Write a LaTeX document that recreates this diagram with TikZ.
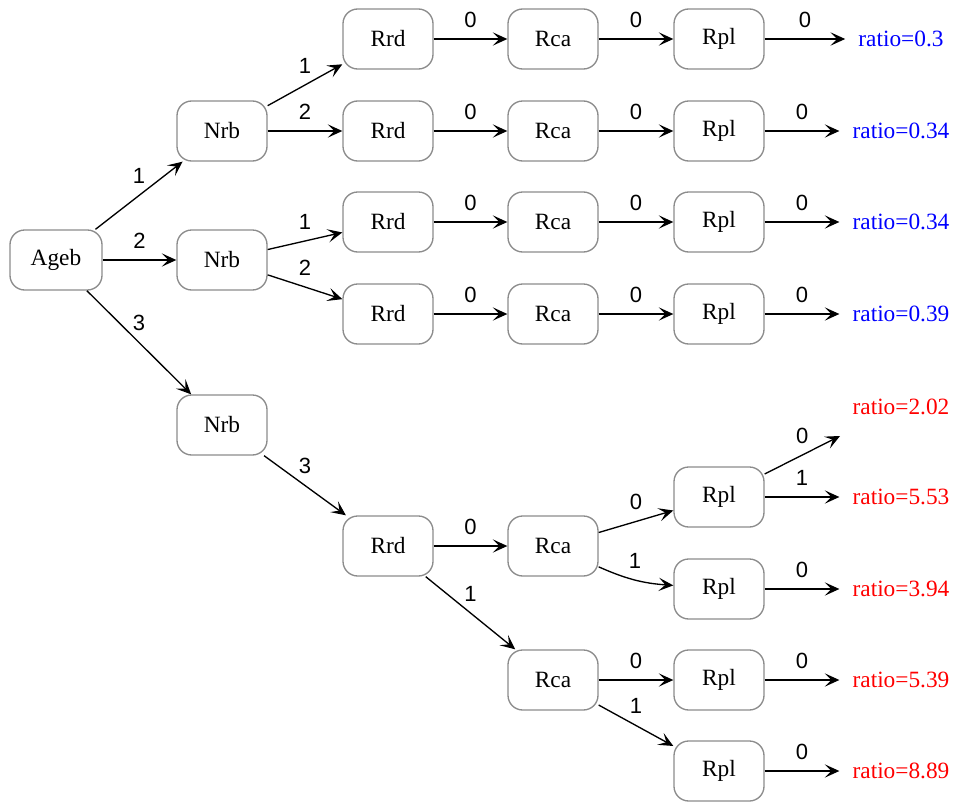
\documentclass[tikz,border=0pt]{standalone}
\usepackage{fontspec}
\setmainfont{Liberation Serif}
\newfontfamily\lblfont{Liberation Sans}
\usetikzlibrary{arrows.meta}
\begin{document}
\begin{tikzpicture}[x=0.75pt,y=-0.75pt,
 box/.style={draw=black!45, line width=1pt, rounded corners=11pt, fill=white,
   minimum width=67.5pt, minimum height=45pt, inner sep=0pt, font=\fontsize{17.5}{20}\selectfont},
 res/.style={inner xsep=9.75pt, inner ysep=2pt, font=\fontsize{17.5}{20}\selectfont},
 arr/.style={-{Stealth[length=11pt,width=10pt,inset=5pt]}, line width=1pt},
 lbl/.style={midway, yshift=14.5pt, font=\lblfont\fontsize{16.5}{19}\selectfont, inner sep=0pt}
]
\useasboundingbox (0,0) rectangle (956,803);
% nodes
\node[box, minimum width=69pt] (ageb) at (56,260) {Ageb};
\node[box] (nrbA) at (222,131) {Nrb};
\node[box] (nrbB) at (222,260) {Nrb};
\node[box] (nrbC) at (222,425) {Nrb};
% rows
\node[box] (rrd1) at (388,39) {Rrd};
\node[box] (rca1) at (553,39) {Rca};
\node[box] (rpl1) at (719,39) {Rpl};
\node[box] (rrd2) at (388,131) {Rrd};
\node[box] (rca2) at (553,131) {Rca};
\node[box] (rpl2) at (719,131) {Rpl};
\node[box] (rrd3) at (388,222) {Rrd};
\node[box] (rca3) at (553,222) {Rca};
\node[box] (rpl3) at (719,222) {Rpl};
\node[box] (rrd4) at (388,314) {Rrd};
\node[box] (rca4) at (553,314) {Rca};
\node[box] (rpl4) at (719,314) {Rpl};
% lower part
\node[box] (rrd5) at (388,546) {Rrd};
\node[box] (rca5) at (553,546) {Rca};
\node[box] (rpl5) at (719,497) {Rpl};
\node[box] (rpl6) at (719,589) {Rpl};
\node[box] (rca6) at (553,680) {Rca};
\node[box] (rpl7) at (719,680) {Rpl};
\node[box] (rpl8) at (719,771) {Rpl};
% results
\node[res, text=blue] (r1) at (901,39) {ratio=0.3};
\node[res, text=blue] (r2) at (901,131) {ratio=0.34};
\node[res, text=blue] (r3) at (901,222) {ratio=0.34};
\node[res, text=blue] (r4) at (901,314) {ratio=0.39};
\node[res, text=red] (r5) at (901,407) {ratio=2.02};
\coordinate (free) at (840,436);
\node[res, text=red] (r6) at (901,497) {ratio=5.53};
\node[res, text=red] (r7) at (901,589) {ratio=3.94};
\node[res, text=red] (r8) at (901,680) {ratio=5.39};
\node[res, text=red] (r9) at (901,771) {ratio=8.89};
% edges
\draw[arr] (ageb) -- node[lbl]{1} (nrbA);
\draw[arr] (ageb) -- node[lbl]{2} (nrbB);
\draw[arr] (ageb) -- node[lbl]{3} (nrbC);
\draw[arr] (nrbA) -- node[lbl]{1} (rrd1);
\draw[arr] (nrbA) -- node[lbl]{2} (rrd2);
\draw[arr] (nrbB) -- node[lbl]{1} (rrd3);
\draw[arr] (nrbB) -- node[lbl]{2} (rrd4);
\draw[arr] (nrbC) -- node[lbl]{3} (rrd5);
\foreach \i in {1,2,3,4}{
  \draw[arr] (rrd\i) -- node[lbl]{0} (rca\i);
  \draw[arr] (rca\i) -- node[lbl]{0} (rpl\i);
  \draw[arr] (rpl\i) -- node[lbl]{0} (r\i);
}
\draw[arr] (rrd5) -- node[lbl]{0} (rca5);
\draw[arr] (rrd5) -- node[lbl]{1} (rca6);
\draw[arr] (rca5) -- node[lbl]{0} (rpl5);
\draw[arr] (rca5) to[bend right=10] node[lbl]{1} (rpl6);
\draw[arr] (rpl5) -- node[lbl]{0} (free);
\draw[arr] (rpl5) -- node[lbl]{1} (r6);
\draw[arr] (rpl6) -- node[lbl]{0} (r7);
\draw[arr] (rca6) -- node[lbl]{0} (rpl7);
\draw[arr] (rca6) -- node[lbl]{1} (rpl8);
\draw[arr] (rpl7) -- node[lbl]{0} (r8);
\draw[arr] (rpl8) -- node[lbl]{0} (r9);
\end{tikzpicture}
\end{document}
